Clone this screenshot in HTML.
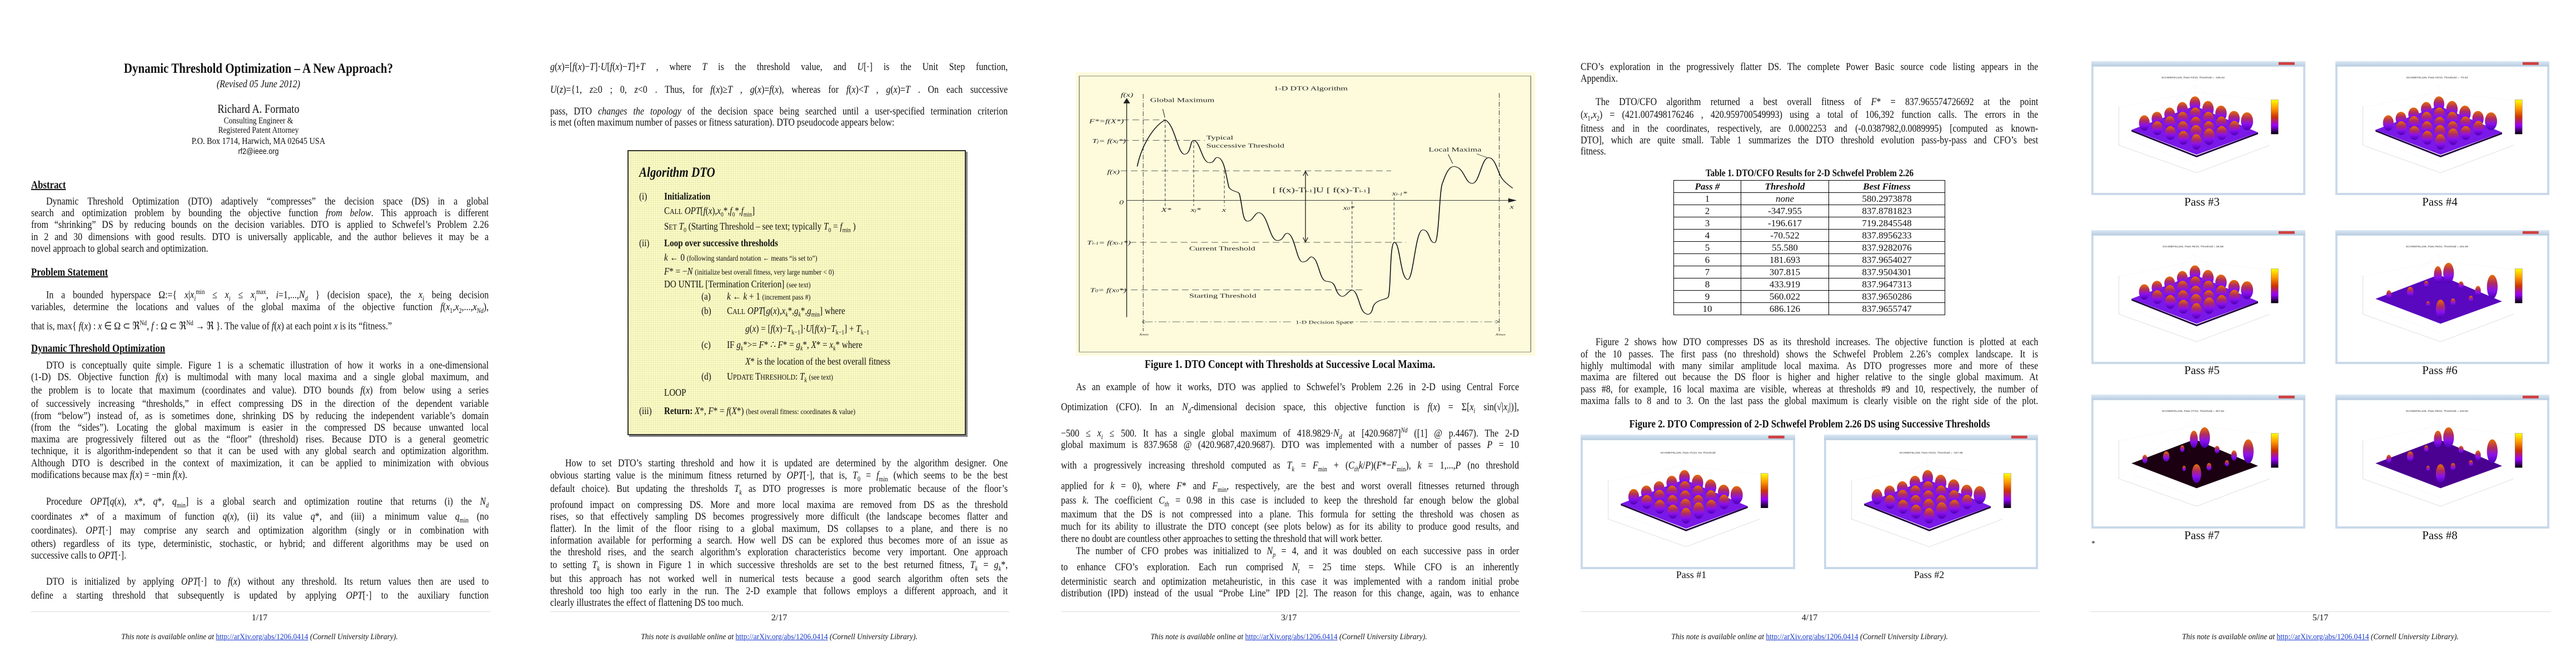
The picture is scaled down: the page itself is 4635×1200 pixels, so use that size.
<!DOCTYPE html>
<html><head><meta charset="utf-8">
<style>
html,body{margin:0;padding:0;background:#fff;}
#pg{position:relative;width:4635px;height:1200px;overflow:hidden;background:#fff;font-family:"Liberation Serif",serif;color:#111;}
.a{position:absolute;white-space:nowrap;}
.l{position:absolute;white-space:nowrap;font-size:19px;line-height:22px;text-align:justify;text-align-last:justify;transform:scaleX(.84);transform-origin:0 0;}
.l.e{text-align-last:left;}
.p1{left:56px;width:980px}.p1.i{left:83px;width:948px}
.p2{left:990px;width:980px}.p2.i{left:1017px;width:948px}
.p3{left:1909px;width:981px}.p3.i{left:1936px;width:949px}
.p4{left:2844px;width:980px}.p4.i{left:2871px;width:948px}
.c{position:absolute;white-space:nowrap;text-align:center;transform:scaleX(.84);transform-origin:50% 0;}
.h{position:absolute;font-weight:bold;text-decoration:underline;font-size:20px;transform:scaleX(.84);transform-origin:0 0;white-space:nowrap;}
.rule{position:absolute;height:1px;background:#ddd;}
.pn{position:absolute;font-size:16px;text-align:center;width:200px;}
.ft{position:absolute;font-size:15px;font-style:italic;text-align:center;width:900px;white-space:nowrap;transform:scaleX(.9);transform-origin:50% 0;}
.ft span{color:#1a3acc;text-decoration:underline;font-style:normal;}
i{font-style:italic;}
sub,sup{font-size:65%;}
#algo{position:absolute;left:1129px;top:270px;width:605px;height:509px;border:2px solid #333;box-shadow:3px 3px 0 #888;
background-color:#fbfbc6;background-image:repeating-linear-gradient(0deg,rgba(200,200,140,.25) 0 1px,transparent 1px 4px),repeating-linear-gradient(90deg,rgba(200,200,140,.25) 0 1px,transparent 1px 4px);}
.al{position:absolute;white-space:nowrap;font-size:18px;transform:scaleX(.84);transform-origin:0 0;}
table.t{position:absolute;left:3011px;top:324px;width:489px;border-collapse:collapse;font-size:17px;}
table.t td{border:1px solid #000;height:21px;padding:0;text-align:center;line-height:20px;}
.pass{position:absolute;font-size:21px;text-align:center;width:200px;}
</style></head><body><div id="pg">

<svg width="0" height="0" style="position:absolute">
<defs>
<linearGradient id="bump" x1="0" y1="0" x2="0" y2="1">
<stop offset="0" stop-color="#e87000"/><stop offset=".35" stop-color="#b02c60"/><stop offset=".65" stop-color="#8a10f0"/><stop offset="1" stop-color="#4a00b0"/></linearGradient>
<linearGradient id="cbar" x1="0" y1="0" x2="0" y2="1">
<stop offset="0" stop-color="#ffff00"/><stop offset=".25" stop-color="#ff9900"/><stop offset=".5" stop-color="#cc3300"/><stop offset=".75" stop-color="#9900ff"/><stop offset="1" stop-color="#000"/></linearGradient>
<linearGradient id="tbar" x1="0" y1="0" x2="0" y2="1"><stop offset="0" stop-color="#dce8f4"/><stop offset="1" stop-color="#b8cce0"/></linearGradient>
<symbol id="frame" viewBox="0 0 1200 780">
<rect x="0" y="0" width="1200" height="780" fill="#c9d9ea"/>
<rect x="0" y="0" width="1200" height="30" fill="url(#tbar)"/>
<rect x="1050" y="6" width="90" height="16" fill="#d04040"/>
<rect x="12" y="32" width="1176" height="735" fill="#fff"/>
<g stroke="#ccc" stroke-width="1" stroke-dasharray="3,4" fill="none">
<path d="M155 485 L580 140 L1000 490 M230 465 L590 600 M580 140 L580 300 M155 270 L580 180 L1000 230"/>
</g>
<path d="M155 265 L155 490 L590 650 L1000 490" stroke="#999" fill="none"/>
<rect x="1008" y="225" width="40" height="200" fill="url(#cbar)" stroke="#333"/>
</symbol>
<symbol id="surfA" viewBox="0 0 1200 780">
<polygon points="225,400 590,550 935,415 935,425 590,560 225,410" fill="#200040"/>
<polygon points="225,400 580,260 935,415 590,545" fill="#7a18e8"/>
<g fill="url(#bump)">
<ellipse cx="581" cy="250" rx="30" ry="45"/><ellipse cx="510" cy="280" rx="30" ry="42"/><ellipse cx="654" cy="280" rx="32" ry="48"/>
<ellipse cx="439" cy="310" rx="30" ry="40"/><ellipse cx="583" cy="310" rx="30" ry="40"/><ellipse cx="727" cy="305" rx="32" ry="46"/>
<ellipse cx="368" cy="335" rx="30" ry="40"/><ellipse cx="512" cy="335" rx="30" ry="40"/><ellipse cx="656" cy="335" rx="30" ry="40"/><ellipse cx="800" cy="335" rx="32" ry="45"/>
<ellipse cx="297" cy="360" rx="30" ry="45"/><ellipse cx="441" cy="360" rx="30" ry="40"/><ellipse cx="585" cy="362" rx="30" ry="38"/><ellipse cx="729" cy="362" rx="30" ry="40"/><ellipse cx="873" cy="350" rx="34" ry="52"/>
<ellipse cx="370" cy="390" rx="30" ry="40"/><ellipse cx="514" cy="390" rx="30" ry="40"/><ellipse cx="658" cy="390" rx="30" ry="40"/><ellipse cx="802" cy="390" rx="30" ry="42"/>
<ellipse cx="443" cy="418" rx="30" ry="40"/><ellipse cx="587" cy="418" rx="32" ry="46"/><ellipse cx="731" cy="418" rx="30" ry="40"/>
<ellipse cx="516" cy="446" rx="30" ry="40"/><ellipse cx="660" cy="440" rx="32" ry="48"/>
<ellipse cx="589" cy="470" rx="30" ry="45"/>
</g>
</symbol>
<symbol id="surfB" viewBox="0 0 1200 780">
<g fill="url(#bump)">
<ellipse cx="575" cy="260" rx="22" ry="50"/><ellipse cx="635" cy="250" rx="30" ry="60"/><ellipse cx="510" cy="315" rx="12" ry="20"/>
<ellipse cx="705" cy="320" rx="14" ry="22"/><ellipse cx="880" cy="330" rx="30" ry="70"/><ellipse cx="800" cy="355" rx="16" ry="30"/>
<ellipse cx="300" cy="375" rx="14" ry="25"/><ellipse cx="420" cy="360" rx="18" ry="30"/><ellipse cx="590" cy="460" rx="26" ry="55"/>
<ellipse cx="660" cy="420" rx="14" ry="22"/><ellipse cx="520" cy="430" rx="10" ry="16"/><ellipse cx="760" cy="400" rx="12" ry="18"/>
</g>
</symbol>
</defs>
</svg>

<!-- ============ PAGE 1 ============ -->
<div class="c" style="left:0;width:930px;top:110px;font-size:25px;font-weight:bold;">Dynamic Threshold Optimization – A New Approach?</div>
<div class="c" style="left:0;width:930px;top:141px;font-size:19px;font-style:italic;">(Revised 05 June 2012)</div>
<div class="c" style="left:0;width:930px;top:183px;font-size:22px;">Richard A. Formato</div>
<div class="c" style="left:0;width:930px;top:209px;font-size:16px;">Consulting Engineer &amp;</div>
<div class="c" style="left:0;width:930px;top:226px;font-size:16px;">Registered Patent Attorney</div>
<div class="c" style="left:0;width:930px;top:244px;font-size:17px;">P.O. Box 1714, Harwich, MA 02645 USA</div>
<div class="c" style="left:0;width:930px;top:264px;font-size:15px;font-family:'Liberation Sans',sans-serif;">rf2@ieee.org</div>

<div class="h" style="left:56px;top:322px;">Abstract</div>
<div class="l p1 i" style="top:352px">Dynamic Threshold Optimization (DTO) adaptively “compresses” the decision space (DS) in a global</div>
<div class="l p1" style="top:373px">search and optimization problem by bounding the objective function <i>from below</i>. This approach is different</div>
<div class="l p1" style="top:394px">from “shrinking” DS by reducing bounds on the decision variables. DTO is applied to Schwefel’s Problem 2.26</div>
<div class="l p1" style="top:416px">in 2 and 30 dimensions with good results. DTO is universally applicable, and the author believes it may be a</div>
<div class="l p1 e" style="top:437px">novel approach to global search and optimization.</div>

<div class="h" style="left:56px;top:479px;">Problem Statement</div>
<div class="l p1 i" style="top:514px">In a bounded hyperspace Ω:={ <i>x</i>|<i>x<sub>i</sub></i><sup>min</sup> ≤ <i>x<sub>i</sub></i> ≤ <i>x<sub>i</sub></i><sup>max</sup>, <i>i</i>=1,...,<i>N<sub>d</sub></i> } (decision space), the <i>x<sub>i</sub></i> being decision</div>
<div class="l p1" style="top:542px">variables, determine the locations and values of the global maxima of the objective function <i>f</i>(<i>x</i><sub>1</sub>,<i>x</i><sub>2</sub>,...,<i>x<sub>Nd</sub></i>),</div>
<div class="l p1 e" style="top:570px">that is, max{ <i>f</i>(<i>x</i>) : <i>x</i> ∈ Ω ⊂ ℜ<sup>Nd</sup>, <i>f</i> : Ω ⊂ ℜ<sup>Nd</sup> → ℜ }. The value of <i>f</i>(<i>x</i>) at each point <i>x</i> is its “fitness.”</div>

<div class="h" style="left:56px;top:616px;">Dynamic Threshold Optimization</div>
<div class="l p1 i" style="top:647px">DTO is conceptually quite simple. Figure 1 is a schematic illustration of how it works in a one-dimensional</div>
<div class="l p1" style="top:668px">(1-D) DS. Objective function <i>f</i>(<i>x</i>) is multimodal with many local maxima and a single global maximum, and</div>
<div class="l p1" style="top:692px">the problem is to locate that maximum (coordinates and value). DTO bounds <i>f</i>(<i>x</i>) from below using a series</div>
<div class="l p1" style="top:716px">of successively increasing “thresholds,” in effect compressing DS in the direction of the dependent variable</div>
<div class="l p1" style="top:738px">(from “below”) instead of, as is sometimes done, shrinking DS by reducing the independent variable’s domain</div>
<div class="l p1" style="top:759px">(from the “sides”). Locating the global maximum is easier in the compressed DS because unwanted local</div>
<div class="l p1" style="top:780px">maxima are progressively filtered out as the “floor” (threshold) rises. Because DTO is a general geometric</div>
<div class="l p1" style="top:801px">technique, it is algorithm-independent so that it can be used with any global search and optimization algorithm.</div>
<div class="l p1" style="top:823px">Although DTO is described in the context of maximization, it can be applied to minimization with obvious</div>
<div class="l p1 e" style="top:844px">modifications because max <i>f</i>(<i>x</i>) = −min <i>f</i>(<i>x</i>).</div>

<div class="l p1 i" style="top:892px">Procedure <i>OPT</i>[<i>q</i>(<i>x</i>), <i>x</i>*, <i>q</i>*, <i>q</i><sub>min</sub>] is a global search and optimization routine that returns (i) the <i>N<sub>d</sub></i></div>
<div class="l p1" style="top:919px">coordinates <i>x</i>* of a maximum of function <i>q</i>(<i>x</i>), (ii) its value <i>q</i>*, and (iii) a minimum value <i>q</i><sub>min</sub> (no</div>
<div class="l p1" style="top:944px">coordinates). <i>OPT</i>[·] may comprise any search and optimization algorithm (singly or in combination with</div>
<div class="l p1" style="top:968px">others) regardless of its type, deterministic, stochastic, or hybrid; and different algorithms may be used on</div>
<div class="l p1 e" style="top:989px">successive calls to <i>OPT</i>[·].</div>

<div class="l p1 i" style="top:1036px">DTO is initialized by applying <i>OPT</i>[·] to <i>f</i>(<i>x</i>) without any threshold. Its return values then are used to</div>
<div class="l p1" style="top:1061px">define a starting threshold that subsequently is updated by applying <i>OPT</i>[·] to the auxiliary function</div>

<div class="rule" style="left:55px;width:828px;top:1100px"></div>
<div class="pn" style="left:367px;top:1103px">1/17</div>
<div class="ft" style="left:17px;top:1138px">This note is available online at <span>http://arXiv.org/abs/1206.0414</span> (Cornell University Library).</div>

<!-- ============ PAGE 2 ============ -->
<div class="l p2" style="top:110px"><i>g</i>(<i>x</i>)=[<i>f</i>(<i>x</i>)−<i>T</i>]·<i>U</i>[<i>f</i>(<i>x</i>)−<i>T</i>]+<i>T</i> , where <i>T</i> is the threshold value, and <i>U</i>[·] is the Unit Step function,</div>
<div class="l p2" style="top:151px"><i>U</i>(<i>z</i>)={1, <i>z</i>≥0 ; 0, <i>z</i>&lt;0 . Thus, for <i>f</i>(<i>x</i>)≥<i>T</i> , <i>g</i>(<i>x</i>)=<i>f</i>(<i>x</i>), whereas for <i>f</i>(<i>x</i>)&lt;<i>T</i> , <i>g</i>(<i>x</i>)=<i>T</i> . On each successive</div>
<div class="l p2" style="top:190px">pass, DTO <i>changes the topology</i> of the decision space being searched until a user-specified termination criterion</div>
<div class="l p2 e" style="top:210px">is met (often maximum number of passes or fitness saturation). DTO pseudocode appears below:</div>

<div id="algo"></div>
<div class="al" style="left:1150px;top:297px;font-size:25px;font-style:italic;font-weight:bold;">Algorithm DTO</div>
<div class="al" style="left:1150px;top:343px;">(i)</div><div class="al" style="left:1195px;top:343px;font-weight:bold;">Initialization</div>
<div class="al" style="left:1195px;top:369px;">C<span style="font-size:14px">ALL</span> <i>OPT</i>[<i>f</i>(<i>x</i>),<i>x</i><sub>0</sub>*,<i>f</i><sub>0</sub>*,<i>f</i><sub>min</sub>]</div>
<div class="al" style="left:1195px;top:397px;">S<span style="font-size:14px">ET</span> <i>T</i><sub>0</sub> (Starting Threshold – see text; typically <i>T</i><sub>0</sub> = <i>f</i><sub>min</sub> )</div>
<div class="al" style="left:1150px;top:427px;">(ii)</div><div class="al" style="left:1195px;top:427px;font-weight:bold;">Loop over successive thresholds</div>
<div class="al" style="left:1195px;top:453px;"><i>k</i> ← 0 <span style="font-size:14px">(following standard notation ← means “is set to”)</span></div>
<div class="al" style="left:1195px;top:478px;"><i>F</i>* = −<i>N</i> <span style="font-size:14px">(initialize best overall fitness, very large number &lt; 0)</span></div>
<div class="al" style="left:1195px;top:501px;">DO UNTIL [Termination Criterion] <span style="font-size:14px">(see text)</span></div>
<div class="al" style="left:1262px;top:523px;">(a)</div><div class="al" style="left:1308px;top:523px;"><i>k</i> ← <i>k</i> + 1 <span style="font-size:14px">(increment pass #)</span></div>
<div class="al" style="left:1262px;top:549px;">(b)</div><div class="al" style="left:1308px;top:549px;">C<span style="font-size:14px">ALL</span> <i>OPT</i>[<i>g</i>(<i>x</i>),<i>x<sub>k</sub></i>*,<i>g<sub>k</sub></i>*,<i>g</i><sub>min</sub>] where</div>
<div class="al" style="left:1341px;top:581px;"><i>g</i>(<i>x</i>) = [<i>f</i>(<i>x</i>)−<i>T</i><sub>k−1</sub>]·<i>U</i>[<i>f</i>(<i>x</i>)−<i>T</i><sub>k−1</sub>] + <i>T</i><sub>k−1</sub></div>
<div class="al" style="left:1262px;top:610px;">(c)</div><div class="al" style="left:1308px;top:610px;">IF <i>g<sub>k</sub></i>*&gt;= <i>F</i>* ∴ <i>F</i>* = <i>g<sub>k</sub></i>*, <i>X</i>* = <i>x<sub>k</sub></i>* where</div>
<div class="al" style="left:1341px;top:640px;"><i>X</i>* is the location of the best overall fitness</div>
<div class="al" style="left:1262px;top:667px;">(d)</div><div class="al" style="left:1308px;top:667px;">U<span style="font-size:14px">PDATE</span> T<span style="font-size:14px">HRESHOLD</span>: <i>T<sub>k</sub></i> <span style="font-size:14px">(see text)</span></div>
<div class="al" style="left:1195px;top:696px;">LOOP</div>
<div class="al" style="left:1150px;top:729px;">(iii)</div><div class="al" style="left:1195px;top:729px;"><b>Return:</b> <i>X</i>*, <i>F</i>* = <i>f</i>(<i>X</i>*) <span style="font-size:14px">(best overall fitness: coordinates &amp; value)</span></div>

<div class="l p2 i" style="top:823px">How to set DTO’s starting threshold and how it is updated are determined by the algorithm designer. One</div>
<div class="l p2" style="top:845px">obvious starting value is the minimum fitness returned by <i>OPT</i>[·], that is, <i>T</i><sub>0</sub> = <i>f</i><sub>min</sub> (which seems to be the best</div>
<div class="l p2" style="top:869px">default choice). But updating the thresholds <i>T<sub>k</sub></i> as DTO progresses is more problematic because of the floor’s</div>
<div class="l p2" style="top:898px">profound impact on compressing DS. More and more local maxima are removed from DS as the threshold</div>
<div class="l p2" style="top:919px">rises, so that effectively sampling DS becomes progressively more difficult (the landscape becomes flatter and</div>
<div class="l p2" style="top:941px">flatter). In the limit of the floor rising to a global maximum, DS collapses to a plane, and there is no</div>
<div class="l p2" style="top:962px">information available for performing a search. How well DS can be explored thus becomes more of an issue as</div>
<div class="l p2" style="top:983px">the threshold rises, and the search algorithm’s exploration characteristics become very important. One approach</div>
<div class="l p2" style="top:1006px">to setting <i>T<sub>k</sub></i> is shown in Figure 1 in which successive thresholds are set to the best returned fitness, <i>T<sub>k</sub></i> = <i>g<sub>k</sub></i>*,</div>
<div class="l p2" style="top:1031px">but this approach has not worked well in numerical tests because a good search algorithm often sets the</div>
<div class="l p2" style="top:1053px">threshold too high too early in the run. The 2-D example that follows employs a different approach, and it</div>
<div class="l p2 e" style="top:1074px">clearly illustrates the effect of flattening DS too much.</div>

<div class="rule" style="left:990px;width:826px;top:1100px"></div>
<div class="pn" style="left:1302px;top:1103px">2/17</div>
<div class="ft" style="left:952px;top:1138px">This note is available online at <span>http://arXiv.org/abs/1206.0414</span> (Cornell University Library).</div>

<!-- ============ PAGE 3 ============ -->
<svg class="a" style="left:1930px;top:125px" width="840" height="515" viewBox="0 0 1554 1520" preserveAspectRatio="none">
<rect x="10" y="15" width="1530" height="1505" fill="#fdfbdc"/>
<rect x="22" y="35" width="1503" height="1465" fill="none" stroke="#555" stroke-width="2"/>
<g font-family="Liberation Serif" font-size="30" fill="#222">
<text x="670" y="110">1-D DTO Algorithm</text>
<text x="160" y="145" font-style="italic">f(x)</text>
<text x="258" y="172">Global Maximum</text>
<text x="55" y="285" font-style="italic">F*=f(X*)</text>
<text x="65" y="390" font-style="italic">T<tspan font-size="20">j</tspan>= f(x<tspan font-size="20">j</tspan>*)</text>
<text x="445" y="372">Typical</text>
<text x="445" y="415">Successive Threshold</text>
<text x="1185" y="435">Local Maxima</text>
<text x="115" y="553" font-style="italic">f(x)</text>
<text x="665" y="652" font-size="36">[ f(x)-T<tspan font-size="22">i-1</tspan>]U [ f(x)-T<tspan font-size="22">i-1</tspan>]</text>
<text x="155" y="715" font-style="italic">0</text>
<text x="295" y="755" font-style="italic">X*</text>
<text x="393" y="755" font-style="italic">x<tspan font-size="20">j</tspan>*</text>
<text x="497" y="755" font-style="italic">x</text>
<text x="900" y="745" font-style="italic">x<tspan font-size="20">0</tspan>*</text>
<text x="1063" y="668" font-style="italic">x<tspan font-size="20">i-1</tspan>*</text>
<text x="1455" y="740" font-style="italic">x</text>
<text x="48" y="930" font-style="italic">T<tspan font-size="20">i-1</tspan>= f(x<tspan font-size="20">i-1</tspan>*)</text>
<text x="388" y="960">Current Threshold</text>
<text x="58" y="1182" font-style="italic">T<tspan font-size="20">0</tspan>= f(x<tspan font-size="20">0</tspan>*)</text>
<text x="388" y="1212">Starting Threshold</text>
<text x="742" y="1350" font-size="24">1-D Decision Space</text>
<text x="222" y="1412" font-size="22" font-style="italic">x<tspan font-size="14">min</tspan></text>
<text x="1408" y="1412" font-size="22" font-style="italic">x<tspan font-size="14">max</tspan></text>
</g>
<g stroke="#222" fill="none" stroke-width="2.5">
<path d="M180 1315 L180 160"/><path d="M170 180 L180 155 L190 180" fill="#222"/>
<path d="M180 695 L1470 695"/><path d="M1450 685 L1475 695 L1450 705" fill="#222"/>
<path d="M775 545 L775 912"/><path d="M767 565 L775 540 L783 565 M767 892 L775 917 L783 892"/>
<path d="M300 210 L307 255 M1250 450 L1265 500 M1345 448 L1380 468" stroke-width="2"/>
</g>
<g stroke="#333" fill="none" stroke-width="2.2" stroke-dasharray="22,12">
<path d="M165 268 L308 268 M165 376 L440 376 M160 538 L1060 538 M190 918 L1110 918 M160 1170 L970 1170"/>
</g>
<g stroke="#444" fill="none" stroke-width="2" stroke-dasharray="16,10">
<path d="M308 268 L308 725 M403 376 L403 725 M505 538 L505 725 M930 700 L930 1170 M1070 680 L1070 918"/>
</g>
<g stroke="#444" fill="none" stroke-width="2" stroke-dasharray="26,8,4,8">
<path d="M235 130 L235 1390 M1420 125 L1420 1390 M240 1340 L730 1340 M910 1340 L1415 1340"/>
</g>
<path d="M240 1332 L232 1340 L240 1348 M1408 1332 L1418 1340 L1408 1348" stroke="#333" stroke-width="2" fill="none"/>
<path d="M215 515 C230 400 270 300 308 268 C340 290 350 450 372 450 C395 450 390 376 403 376 C425 380 430 495 455 495 C475 495 470 467 482 467 C505 470 510 560 520 625 C530 650 550 645 555 660 C565 720 565 800 580 805 C600 810 605 760 620 760 C650 765 655 905 680 908 C705 910 700 870 715 870 C740 875 745 1020 765 1022 C785 1022 785 995 795 995 C820 1000 820 1122 845 1125 C870 1128 870 1140 880 1180 C890 1210 900 1210 910 1195 C920 1180 925 1170 932 1172 C950 1180 955 1270 970 1290 C985 1310 995 1300 1000 1260 C1010 1220 1040 1225 1050 1210 C1060 1180 1055 930 1070 918 C1090 910 1090 1110 1115 1115 C1135 1118 1140 855 1165 852 C1190 850 1185 920 1205 920 C1220 920 1220 630 1232 600 C1245 540 1255 515 1270 515 C1305 520 1305 605 1330 605 C1355 605 1360 468 1385 468 C1410 470 1415 560 1435 590 C1450 615 1460 625 1465 630" stroke="#111" stroke-width="3" fill="none"/>
</svg>
<div class="c" style="left:1909px;width:824px;top:643px;font-size:21px;font-weight:bold;">Figure 1. DTO Concept with Thresholds at Successive Local Maxima.</div>

<div class="l p3 i" style="top:686px">As an example of how it works, DTO was applied to Schwefel’s Problem 2.26 in 2-D using Central Force</div>
<div class="l p3" style="top:722px">Optimization (CFO). In an <i>N<sub>d</sub></i>-dimensional decision space, this objective function is <i>f</i>(<i>x</i>) = Σ[<i>x<sub>i</sub></i> sin(√|<i>x<sub>i</sub></i>|)],</div>
<div class="l p3" style="top:763px">−500 ≤ <i>x<sub>i</sub></i> ≤ 500. It has a single global maximum of 418.9829·<i>N<sub>d</sub></i> at [420.9687]<sup><i>Nd</i></sup> ([1] @ p.4467). The 2-D</div>
<div class="l p3" style="top:790px">global maximum is 837.9658 @ (420.9687,420.9687). DTO was implemented with a number of passes <i>P</i> = 10</div>
<div class="l p3" style="top:827px">with a progressively increasing threshold computed as <i>T<sub>k</sub></i> = <i>F</i><sub>min</sub> + (<i>C<sub>th</sub>k</i>/<i>P</i>)(<i>F</i>*−<i>F</i><sub>min</sub>), <i>k</i> = 1,...,<i>P</i> (no threshold</div>
<div class="l p3" style="top:864px">applied for <i>k</i> = 0), where <i>F</i>* and <i>F</i><sub>min</sub>, respectively, are the best and worst overall fitnesses returned through</div>
<div class="l p3" style="top:890px">pass <i>k</i>. The coefficient <i>C<sub>th</sub></i> = 0.98 in this case is included to keep the threshold far enough below the global</div>
<div class="l p3" style="top:915px">maximum that the DS is not compressed into a plane. This formula for setting the threshold was chosen as</div>
<div class="l p3" style="top:937px">much for its ability to illustrate the DTO concept (see plots below) as for its ability to produce good results, and</div>
<div class="l p3 e" style="top:959px">there no doubt are countless other approaches to setting the threshold that will work better.</div>
<div class="l p3 i" style="top:981px">The number of CFO probes was initialized to <i>N<sub>p</sub></i> = 4, and it was doubled on each successive pass in order</div>
<div class="l p3" style="top:1010px">to enhance CFO’s exploration. Each run comprised <i>N<sub>t</sub></i> = 25 time steps. While CFO is an inherently</div>
<div class="l p3" style="top:1036px">deterministic search and optimization metaheuristic, in this case it was implemented with a random initial probe</div>
<div class="l p3" style="top:1057px">distribution (IPD) instead of the usual “Probe Line” IPD [2]. The reason for this change, again, was to enhance</div>

<div class="rule" style="left:1909px;width:826px;top:1100px"></div>
<div class="pn" style="left:2219px;top:1103px">3/17</div>
<div class="ft" style="left:1869px;top:1138px">This note is available online at <span>http://arXiv.org/abs/1206.0414</span> (Cornell University Library).</div>

<!-- ============ PAGE 4 ============ -->
<div class="l p4" style="top:110px">CFO’s exploration in the progressively flatter DS. The complete Power Basic source code listing appears in the</div>
<div class="l p4 e" style="top:131px">Appendix.</div>
<div class="l p4 i" style="top:173px">The DTO/CFO algorithm returned a best overall fitness of <i>F</i>* = 837.965574726692 at the point</div>
<div class="l p4" style="top:196px">(<i>x</i><sub>1</sub>,<i>x</i><sub>2</sub>) = (421.007498176246 , 420.959700549993) using a total of 106,392 function calls. The errors in the</div>
<div class="l p4" style="top:221px">fitness and in the coordinates, respectively, are 0.0002253 and (-0.0387982,0.0089995) [computed as known-</div>
<div class="l p4" style="top:242px">DTO], which are quite small. Table 1 summarizes the DTO threshold evolution pass-by-pass and CFO’s best</div>
<div class="l p4 e" style="top:262px">fitness.</div>

<div class="c" style="left:2844px;width:824px;top:301px;font-size:18px;font-weight:bold;">Table 1. DTO/CFO Results for 2-D Schwefel Problem 2.26</div>
<table class="t">
<tr style="font-weight:bold;font-style:italic;"><td style="width:120px">Pass #</td><td style="width:157px">Threshold</td><td>Best Fitness</td></tr>
<tr><td>1</td><td><i>none</i></td><td>580.2973878</td></tr>
<tr><td>2</td><td>-347.955</td><td>837.8781823</td></tr>
<tr><td>3</td><td>-196.617</td><td>719.2845548</td></tr>
<tr><td>4</td><td>-70.522</td><td>837.8956233</td></tr>
<tr><td>5</td><td>55.580</td><td>837.9282076</td></tr>
<tr><td>6</td><td>181.693</td><td>837.9654027</td></tr>
<tr><td>7</td><td>307.815</td><td>837.9504301</td></tr>
<tr><td>8</td><td>433.919</td><td>837.9647313</td></tr>
<tr><td>9</td><td>560.022</td><td>837.9650286</td></tr>
<tr><td>10</td><td>686.126</td><td>837.9655747</td></tr>
</table>

<div class="l p4 i" style="top:605px">Figure 2 shows how DTO compresses DS as its threshold increases. The objective function is plotted at each</div>
<div class="l p4" style="top:627px">of the 10 passes. The first pass (no threshold) shows the Schwefel Problem 2.26’s complex landscape. It is</div>
<div class="l p4" style="top:648px">highly multimodal with many similar amplitude local maxima. As DTO progresses more and more of these</div>
<div class="l p4" style="top:668px">maxima are filtered out because the DS floor is higher and higher relative to the single global maximum. At</div>
<div class="l p4" style="top:690px">pass #8, for example, 16 local maxima are visible, whereas at thresholds #9 and 10, respectively, the number of</div>
<div class="l p4" style="top:711px">maxima falls to 8 and to 3. On the last pass the global maximum is clearly visible on the right side of the plot.</div>

<div class="c" style="left:2844px;width:824px;top:752px;font-size:20px;font-weight:bold;">Figure 2. DTO Compression of 2-D Schwefel Problem 2.26 DS using Successive Thresholds</div>

<svg class="a" style="left:2844px;top:782px" width="386" height="242" viewBox="0 0 1200 780" preserveAspectRatio="none">
<use href="#frame"/><use href="#surfA"/>
<text x="600" y="110" font-size="16" font-family="Liberation Sans" text-anchor="middle" fill="#333">SCHWEFEL226, Pass #1/10, No Threshold</text>
</svg>
<svg class="a" style="left:3282px;top:782px" width="385" height="242" viewBox="0 0 1200 780" preserveAspectRatio="none">
<use href="#frame"/><use href="#surfA"/>
<text x="600" y="110" font-size="16" font-family="Liberation Sans" text-anchor="middle" fill="#333">SCHWEFEL226, Pass #2/10, Threshold = -347.96</text>
</svg>
<div class="pass" style="left:2943px;top:1024px;font-size:18px;">Pass #1</div>
<div class="pass" style="left:3371px;top:1024px;font-size:18px;">Pass #2</div>

<div class="rule" style="left:2844px;width:826px;top:1100px"></div>
<div class="pn" style="left:3156px;top:1103px">4/17</div>
<div class="ft" style="left:2806px;top:1138px">This note is available online at <span>http://arXiv.org/abs/1206.0414</span> (Cornell University Library).</div>

<!-- ============ PAGE 5 ============ -->
<svg class="a" style="left:3763px;top:110px" width="385" height="241" viewBox="0 0 1200 780" preserveAspectRatio="none">
<use href="#frame"/><use href="#surfA"/>
<text x="570" y="100" font-size="16" font-family="Liberation Sans" text-anchor="middle" fill="#333">SCHWEFEL226, Pass #3/10, Threshold = -196.62</text>
</svg>
<svg class="a" style="left:4202px;top:110px" width="385" height="241" viewBox="0 0 1200 780" preserveAspectRatio="none">
<use href="#frame"/><use href="#surfA"/>
<text x="570" y="100" font-size="16" font-family="Liberation Sans" text-anchor="middle" fill="#333">SCHWEFEL226, Pass #4/10, Threshold = -70.52</text>
</svg>
<svg class="a" style="left:3763px;top:414px" width="385" height="241" viewBox="0 0 1200 780" preserveAspectRatio="none">
<use href="#frame"/><polygon points="225,400 580,260 935,415 590,545" fill="#6a10d0"/><use href="#surfA"/>
<text x="570" y="100" font-size="16" font-family="Liberation Sans" text-anchor="middle" fill="#333">SCHWEFEL226, Pass #5/10, Threshold = 55.58</text>
</svg>
<svg class="a" style="left:4202px;top:414px" width="385" height="241" viewBox="0 0 1200 780" preserveAspectRatio="none">
<use href="#frame"/><polygon points="225,400 580,260 935,415 590,545" fill="#5a08c0"/><use href="#surfB"/>
<text x="570" y="100" font-size="16" font-family="Liberation Sans" text-anchor="middle" fill="#333">SCHWEFEL226, Pass #6/10, Threshold = 181.69</text>
</svg>
<svg class="a" style="left:3763px;top:710px" width="385" height="241" viewBox="0 0 1200 780" preserveAspectRatio="none">
<use href="#frame"/><polygon points="225,400 580,260 935,415 590,545" fill="#1a0010"/><use href="#surfB"/>
<text x="570" y="100" font-size="16" font-family="Liberation Sans" text-anchor="middle" fill="#333">SCHWEFEL226, Pass #7/10, Threshold = 307.82</text>
</svg>
<svg class="a" style="left:4202px;top:710px" width="385" height="241" viewBox="0 0 1200 780" preserveAspectRatio="none">
<use href="#frame"/><polygon points="225,400 580,260 935,415 590,545" fill="#4a0090"/><use href="#surfB"/>
<text x="570" y="100" font-size="16" font-family="Liberation Sans" text-anchor="middle" fill="#333">SCHWEFEL226, Pass #8/10, Threshold = 433.92</text>
</svg>
<div class="pass" style="left:3862px;top:351px;">Pass #3</div>
<div class="pass" style="left:4290px;top:351px;">Pass #4</div>
<div class="pass" style="left:3862px;top:654px;">Pass #5</div>
<div class="pass" style="left:4290px;top:654px;">Pass #6</div>
<div class="pass" style="left:3862px;top:951px;">Pass #7</div>
<div class="pass" style="left:4290px;top:951px;">Pass #8</div>
<div class="a" style="left:3763px;top:971px;font-size:14px;">*</div>

<div class="rule" style="left:3761px;width:828px;top:1100px"></div>
<div class="pn" style="left:4075px;top:1103px">5/17</div>
<div class="ft" style="left:3725px;top:1138px">This note is available online at <span>http://arXiv.org/abs/1206.0414</span> (Cornell University Library).</div>

</div></body></html>
